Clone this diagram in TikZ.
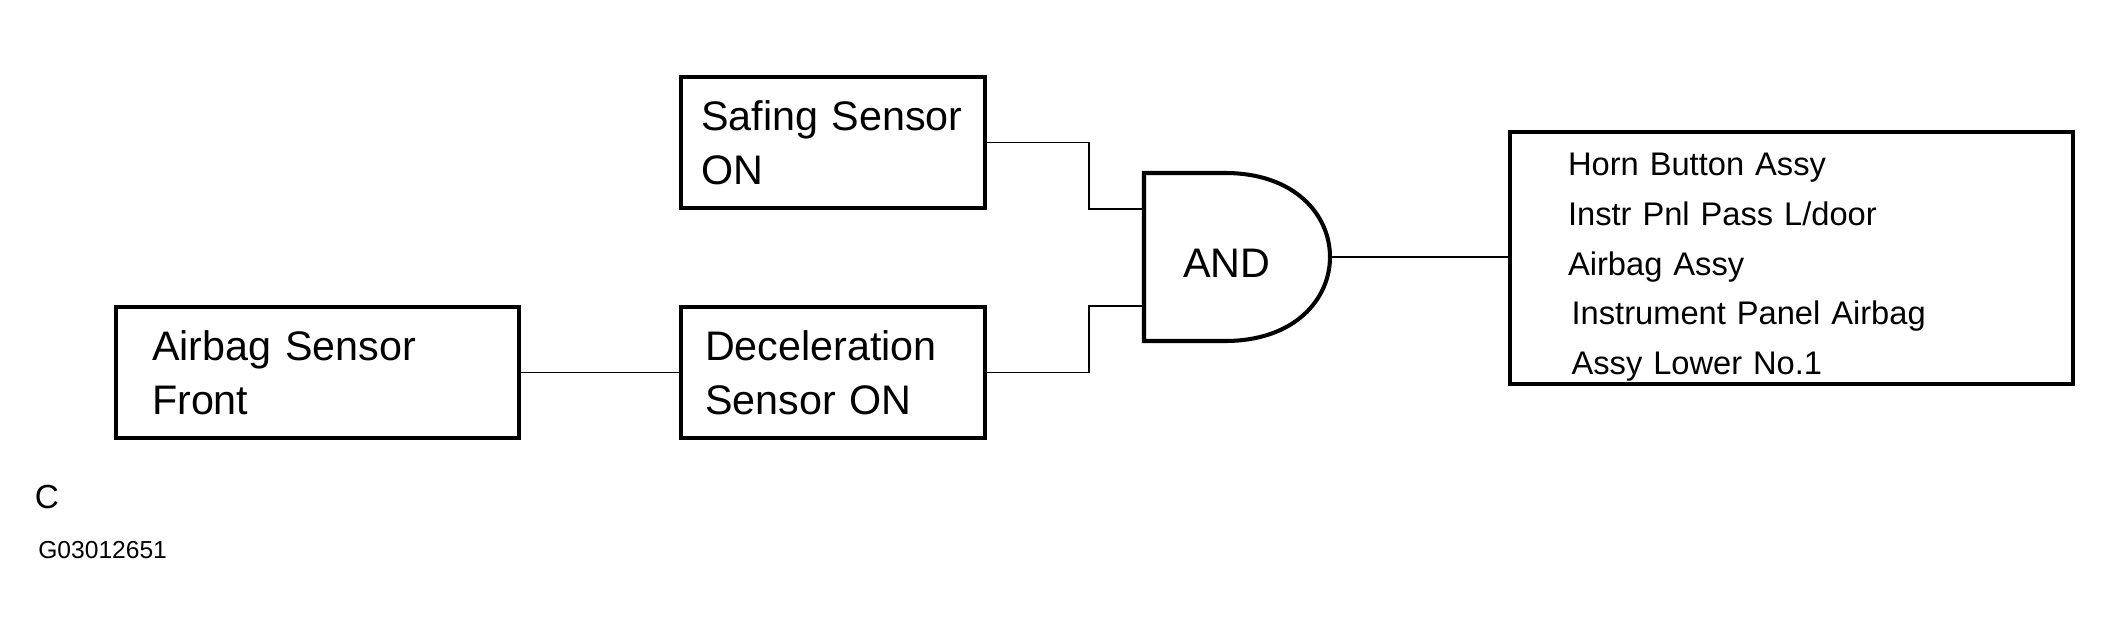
\documentclass[tikz,border=0pt]{standalone}
\usepackage{fontspec}
\setmainfont{Liberation Sans}
\tikzset{
  wire/.style={line width=1.1pt},
  gate/.style={line width=2.3pt}
}
\begin{document}
\begin{tikzpicture}[x=0.02cm,y=-0.02cm]
      \useasboundingbox (0,0) rectangle (2114,629);

      \begin{scope}[every node/.style={rectangle, draw, line width=2.3pt, align=left, inner ysep=0pt,
                    font=\fontsize{23.5}{30.7}\selectfont}]
        \node[minimum height=2.62cm, text width=5.28cm, inner xsep=0.4cm]  (safe)  at (833,142.5)   {Safing Sensor\\ON};
        \node[minimum height=2.62cm, text width=6.62cm, inner xsep=0.72cm] (front) at (317.5,372.5) {Airbag Sensor\\Front};
        \node[minimum height=2.62cm, text width=5.12cm, inner xsep=0.48cm] (decel) at (833,372.5)   {Deceleration\\Sensor ON};
        \node[minimum height=5.04cm, text width=8.94cm, inner xsep=1.16cm,
              font=\fontsize{18.6}{28.3}\selectfont] (bags) at (1791.5,258)
              {\rule{0pt}{23.5pt}Horn Button Assy\\Instr Pnl Pass L/door\\Airbag Assy\\
               \hspace*{2pt}Instrument Panel Airbag\\\hspace*{2pt}Assy Lower No.1};
      \end{scope}

      % AND gate
      \draw[gate] (1144,173) -- (1225,173) .. controls (1295,173) and (1330,215) .. (1330,257)
                  .. controls (1330,299) and (1295,341) .. (1225,341) -- (1144,341) -- cycle;
      \node[font=\fontsize{23.5}{28}\selectfont] (and) at (1227,263) {AND};
      \coordinate (in1) at (1144,209);
      \coordinate (in2) at (1144,306);
      \coordinate (out) at (1330,257);

      \begin{scope}[every path/.style={wire}]
        \draw (safe.east)  -- ++(102,0) |- (in1);
        \draw (decel.east) -- ++(102,0) |- (in2);
        \draw (front.east) -- (decel.west);
        \draw (out) -- (out -| bags.west);
      \end{scope}

      \node[font=\fontsize{19}{22}\selectfont, inner sep=0pt] (view) at (47,497) {C};
      \node[font=\fontsize{14}{17}\selectfont, inner sep=0pt, anchor=west] (fig) at (38,550) {G03012651};

    \end{tikzpicture}
\end{document}
